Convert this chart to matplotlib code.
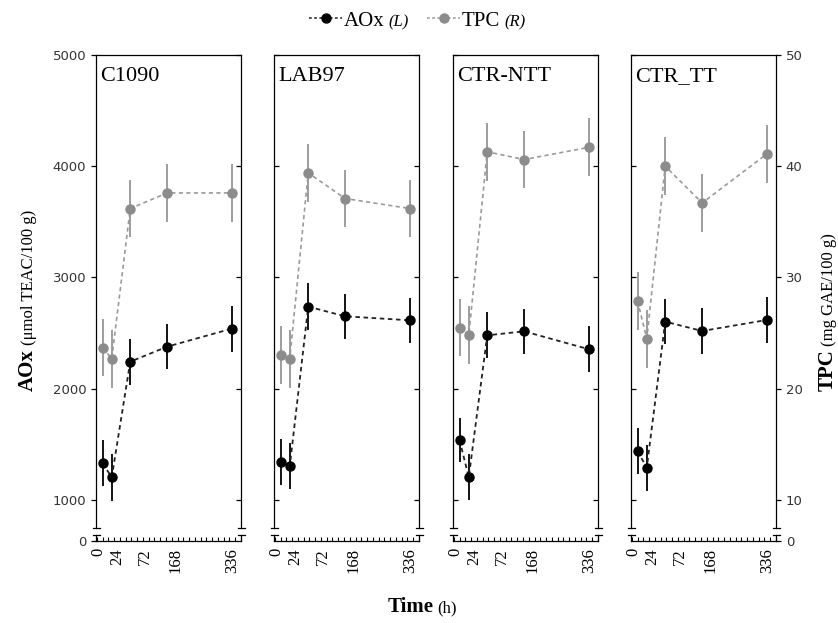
import matplotlib
matplotlib.use('Agg')
import matplotlib.pyplot as plt
from matplotlib.lines import Line2D
from matplotlib.ticker import MultipleLocator, FixedLocator
import numpy as np

# ---------------- data ----------------
panels = ["C1090", "LAB97", "CTR-NTT", "CTR_TT"]
time_h = [0, 24, 72, 168, 336]
time_labels = ["0", "24", "72", "168", "336"]

aox_c1090 = [1330, 1204, 2243, 2378, 2540]
aox_lab97 = [1342, 1303, 2738, 2651, 2615]
aox_ctr_ntt = [1539, 1204, 2480, 2516, 2355]
aox_ctr_tt = [1440, 1290, 2603, 2519, 2618]

aox_err_c1090 = [207, 210, 207, 205, 208]
aox_err_lab97 = [208, 205, 208, 205, 205]
aox_err_ctr_ntt = [200, 205, 208, 205, 208]
aox_err_ctr_tt = [207, 207, 203, 205, 207]

tpc_c1090 = [23.7, 22.7, 36.2, 37.6, 37.6]
tpc_lab97 = [23.0, 22.7, 39.4, 37.1, 36.2]
tpc_ctr_ntt = [25.5, 24.8, 41.3, 40.6, 41.7]
tpc_ctr_tt = [27.9, 24.5, 40.0, 36.7, 41.1]

tpc_err_c1090 = [2.6, 2.6, 2.6, 2.6, 2.6]
tpc_err_lab97 = [2.6, 2.6, 2.6, 2.6, 2.6]
tpc_err_ctr_ntt = [2.6, 2.6, 2.6, 2.6, 2.6]
tpc_err_ctr_tt = [2.6, 2.6, 2.6, 2.6, 2.6]

aox_all = [aox_c1090, aox_lab97, aox_ctr_ntt, aox_ctr_tt]
aox_err_all = [aox_err_c1090, aox_err_lab97, aox_err_ctr_ntt, aox_err_ctr_tt]
tpc_all = [tpc_c1090, tpc_lab97, tpc_ctr_ntt, tpc_ctr_tt]
tpc_err_all = [tpc_err_c1090, tpc_err_lab97, tpc_err_ctr_ntt, tpc_err_ctr_tt]

aox_ticks = [1000, 2000, 3000, 4000, 5000]
tpc_ticks = [10, 20, 30, 40, 50]

# ---------------- layout / style ----------------
W, H = 838, 623
fig = plt.figure(figsize=(W / 100, H / 100), dpi=100)

SERIF = 'Liberation Serif'
SANS = 'DejaVu Sans'
BLACK = '#000000'
GRAY = '#8c8c8c'
GRAYLINE = '#9a9a9a'

lefts_px = [96, 274, 453, 631]
width_px = 145
main_top, main_bot = 55, 528
low_top, low_bot = 535, 541
XLIM = (-17, 360)
AOX_MAIN = (748, 5000)
LOW_LIM = (0, 54)
label_pos = [-10, 38, 111, 189, 336]   # where the reference prints the time labels


def rect(l, t, b):
    return [l / W, 1 - b / H, width_px / W, (b - t) / H]


ytick_kw = dict(labelsize=9.5, labelcolor='#333333', width=0.9, length=3.5)

for i, name in enumerate(panels):
    ax = fig.add_axes(rect(lefts_px[i], main_top, main_bot))
    axl = fig.add_axes(rect(lefts_px[i], low_top, low_bot))
    axt = ax.twinx()

    for a in (ax, axl, axt):
        a.set_xlim(*XLIM)
        a.set_facecolor('none')
    ax.set_ylim(*AOX_MAIN)
    axt.set_ylim(AOX_MAIN[0] / 100, AOX_MAIN[1] / 100)
    axl.set_ylim(*LOW_LIM)

    for s in ax.spines.values():
        s.set_linewidth(0.9)
    for s in axl.spines.values():
        s.set_linewidth(0.9)
    ax.spines['bottom'].set_visible(False)
    axl.spines['top'].set_visible(False)
    for s in axt.spines.values():
        s.set_visible(False)

    # main AOx y axis
    ax.set_yticks(aox_ticks)
    ax.tick_params(axis='x', bottom=False, labelbottom=False, top=False)
    ax.tick_params(axis='y', left=True, right=False, labelleft=(i == 0),
                   direction=('out' if i == 0 else 'in'), **ytick_kw)
    for lab in ax.get_yticklabels():
        lab.set_family(SANS)

    # TPC (right) y axis
    axt.set_yticks(tpc_ticks)
    axt.tick_params(axis='y', right=True, left=False, labelright=(i == 3),
                    direction=('out' if i == 3 else 'in'), **ytick_kw)
    for lab in axt.get_yticklabels():
        lab.set_family(SANS)

    # lower (broken) segment
    axl.set_yticks([0])
    axl.tick_params(axis='y', left=(i == 0), right=(i == 3), labelleft=(i == 0),
                    labelright=(i == 3), direction='out', **ytick_kw)
    for lab in axl.get_yticklabels():
        lab.set_family(SANS)
    axl.xaxis.set_minor_locator(MultipleLocator(15))
    axl.xaxis.set_major_locator(FixedLocator(label_pos))
    axl.set_xticklabels(time_labels, rotation=90, family=SERIF, fontsize=12)
    axl.tick_params(axis='x', which='major', length=0, pad=5)
    axl.tick_params(axis='x', which='minor', direction='in', length=3, width=0.8)

    # break marks
    d = 3.5 / width_px
    for xs in (0, 1):
        ax.plot([xs - d, xs + d], [0, 0], transform=ax.transAxes, color='black',
                lw=0.9, clip_on=False)
        axl.plot([xs - d, xs + d], [1, 1], transform=axl.transAxes, color='black',
                 lw=0.9, clip_on=False)

    # data
    axt.errorbar(time_h, tpc_all[i], yerr=tpc_err_all[i], fmt='o', ls=(0, (2.5, 2)),
                 color=GRAYLINE, mfc=GRAY, mec=GRAY, ecolor=GRAY, ms=6.5, lw=1.2,
                 elinewidth=1.2, capsize=0, zorder=3)
    ax.errorbar(time_h, aox_all[i], yerr=aox_err_all[i], fmt='o', ls=(0, (2.5, 2)),
                color='#222222', mfc=BLACK, mec=BLACK, ecolor=BLACK, ms=6.5, lw=1.3,
                elinewidth=1.3, capsize=0, zorder=3)

    ax.text(0.028, 0.974, name, transform=ax.transAxes, ha='left', va='top',
            fontsize=16, family=SERIF)

# ---------------- composite texts ----------------
fig.canvas.draw()
renderer = fig.canvas.get_renderer()


def chain(x_px, y_px, pieces, rotation=0, center=True):
    widths = []
    for s, kw, gap in pieces:
        t = fig.text(0, 0, s, ha='left', va='baseline', **kw)
        widths.append(t.get_window_extent(renderer).width + gap)
        t.remove()
    total = sum(widths)
    off = -total / 2 if center else 0.0
    ang = np.deg2rad(rotation)
    dx, dy = np.cos(ang), np.sin(ang)
    for (s, kw, gap), w in zip(pieces, widths):
        px = x_px + off * dx
        py = (H - y_px) + off * dy
        fig.text(px / W, py / H, s, rotation=rotation, rotation_mode='anchor',
                 ha='left', va='baseline', **kw)
        off += w


bold15 = dict(family=SERIF, fontsize=15, fontweight='bold')
norm12 = dict(family=SERIF, fontsize=12)

chain(33, 300, [("AOx", bold15, 4), ("(μmol TEAC/100 g)", norm12, 0)], rotation=90)
chain(833, 312, [("TPC", bold15, 4), ("(mg GAE/100 g)", norm12, 0)], rotation=90)
chain(422, 612, [("Time", bold15, 4), ("(h)", norm12, 0)])

# legend
leg_y = 18


def legend_handle(x0, x1, color, mcolor):
    fig.add_artist(Line2D([x0 / W, x1 / W], [1 - leg_y / H, 1 - leg_y / H],
                          transform=fig.transFigure, color=color, lw=1.1,
                          ls=(0, (1.8, 1.6))))
    fig.add_artist(Line2D([(x0 + x1) / 2 / W], [1 - leg_y / H], transform=fig.transFigure,
                          marker='o', ms=6.5, color=mcolor, ls='none'))


legend_handle(309, 342, '#222222', BLACK)
legend_handle(427, 460, GRAYLINE, GRAY)
leg15 = dict(family=SERIF, fontsize=15)
it12 = dict(family=SERIF, fontsize=12, style='italic')
chain(344, 26, [("AOx", leg15, 4), ("(L)", it12, 0)], center=False)
chain(462, 26, [("TPC", leg15, 4), ("(R)", it12, 0)], center=False)

fig.savefig('out.png', dpi=100)
